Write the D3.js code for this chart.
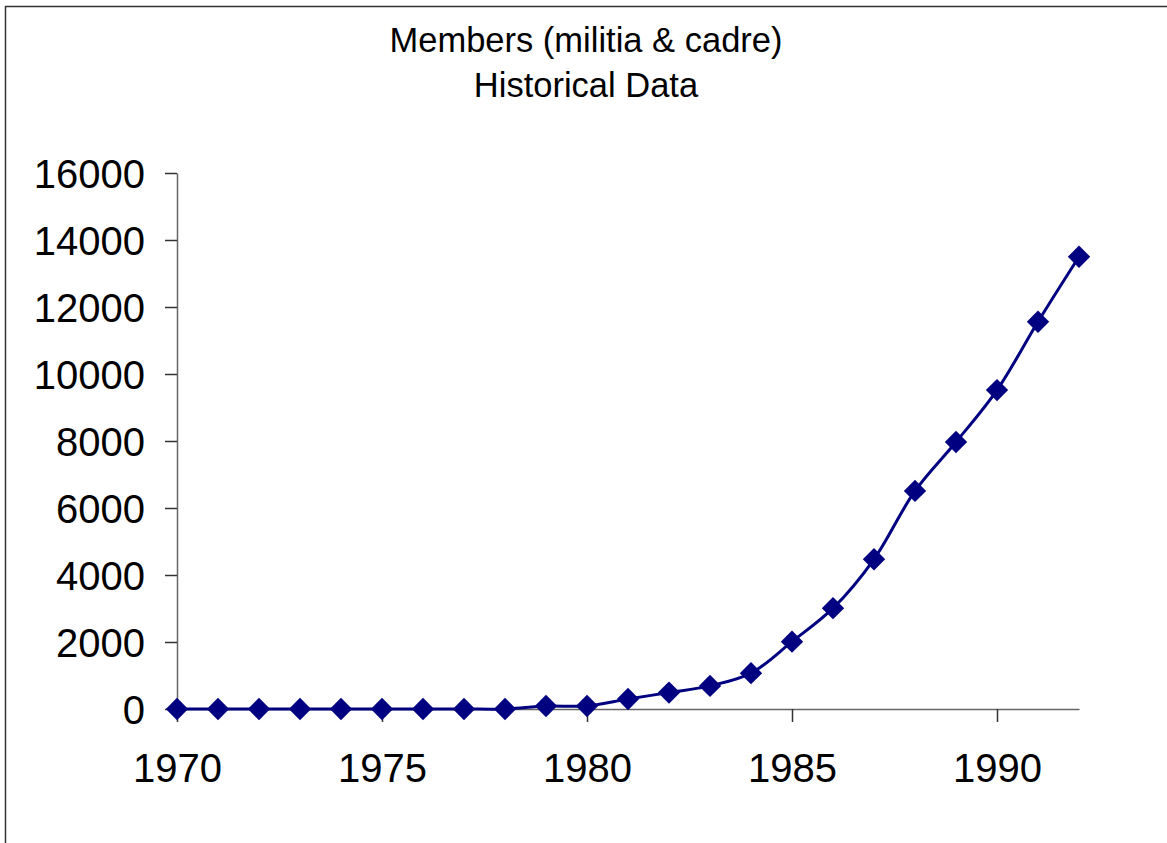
<!DOCTYPE html>
<html>
<head>
<meta charset="utf-8">
<script src="https://cdn.jsdelivr.net/npm/d3@7"></script>
<style>
  body { margin: 0; background: #fff; }
  text { font-family: "Liberation Sans", Arial, sans-serif; fill: #000; }
</style>
</head>
<body>
<svg width="1167" height="843"></svg>
<script>
// chart data
var years = [1970, 1971, 1972, 1973, 1974, 1975, 1976, 1977, 1978, 1979, 1980,
             1981, 1982, 1983, 1984, 1985, 1986, 1987, 1988, 1989, 1990, 1991, 1992];
var members = [0, 0, 0, 0, 0, 0, 0, 0, 0, 90, 90,
               300, 490, 690, 1070, 2010, 3010, 4470, 6510, 7970, 9520, 11560, 13500];
var titleLines = ["Members (militia & cadre)", "Historical Data"];
var yTicks = [0, 2000, 4000, 6000, 8000, 10000, 12000, 14000, 16000];
var xTicks = [1970, 1975, 1980, 1985, 1990];

var svg = d3.select("svg");

// outer frame
svg.append("rect")
  .attr("x", 5.5).attr("y", 6.5)
  .attr("width", 1200).attr("height", 900)
  .attr("fill", "none")
  .attr("stroke", "#333")
  .attr("stroke-width", 1.5);

var x = d3.scaleLinear().domain([1970, 1992]).range([177, 1079]);
var y = d3.scaleLinear().domain([0, 16000]).range([709, 173]);

// title
svg.selectAll(".title")
  .data(titleLines)
  .enter().append("text")
  .attr("class", "title")
  .attr("x", 586)
  .attr("y", function(d, i) { return 52 + i * 45; })
  .attr("text-anchor", "middle")
  .style("font-size", "34.5px")
  .text(function(d) { return d; });

// y axis
var yAxis = svg.append("g")
  .attr("transform", "translate(177,0)")
  .call(d3.axisLeft(y).tickValues(yTicks).tickSize(12).tickSizeOuter(0)
    .tickPadding(20).tickFormat(d3.format("d")));

// x axis
var xAxis = svg.append("g")
  .attr("transform", "translate(0,709)")
  .call(d3.axisBottom(x).tickValues(xTicks).tickSize(13).tickSizeOuter(0)
    .tickPadding(32).tickFormat(d3.format("d")));

[yAxis, xAxis].forEach(function(g) {
  g.select(".domain").attr("stroke", "#666").attr("stroke-width", 1.5);
  g.selectAll(".tick line").attr("stroke", "#333").attr("stroke-width", 1.5);
  g.selectAll(".tick text")
    .style("font-size", "40px")
    .style("font-family", "'Liberation Sans', Arial, sans-serif")
    .attr("fill", "#000");
});
yAxis.selectAll(".tick text").attr("dy", "0.36em");

var points = years.map(function(d, i) { return [d, members[i]]; });

var line = d3.line()
  .x(function(d) { return x(d[0]); })
  .y(function(d) { return y(d[1]); })
  .curve(d3.curveCatmullRom.alpha(0.5));

svg.append("path")
  .datum(points)
  .attr("d", line)
  .attr("fill", "none")
  .attr("stroke", "#000080")
  .attr("stroke-width", 3);

// diamond markers
var marker = d3.symbol().type(d3.symbolSquare).size(250);
svg.selectAll(".pt")
  .data(points)
  .enter().append("path")
  .attr("class", "pt")
  .attr("d", marker)
  .attr("transform", function(d) {
    return "translate(" + x(d[0]) + "," + y(d[1]) + ") rotate(45)";
  })
  .attr("fill", "#000080");
</script>
</body>
</html>
